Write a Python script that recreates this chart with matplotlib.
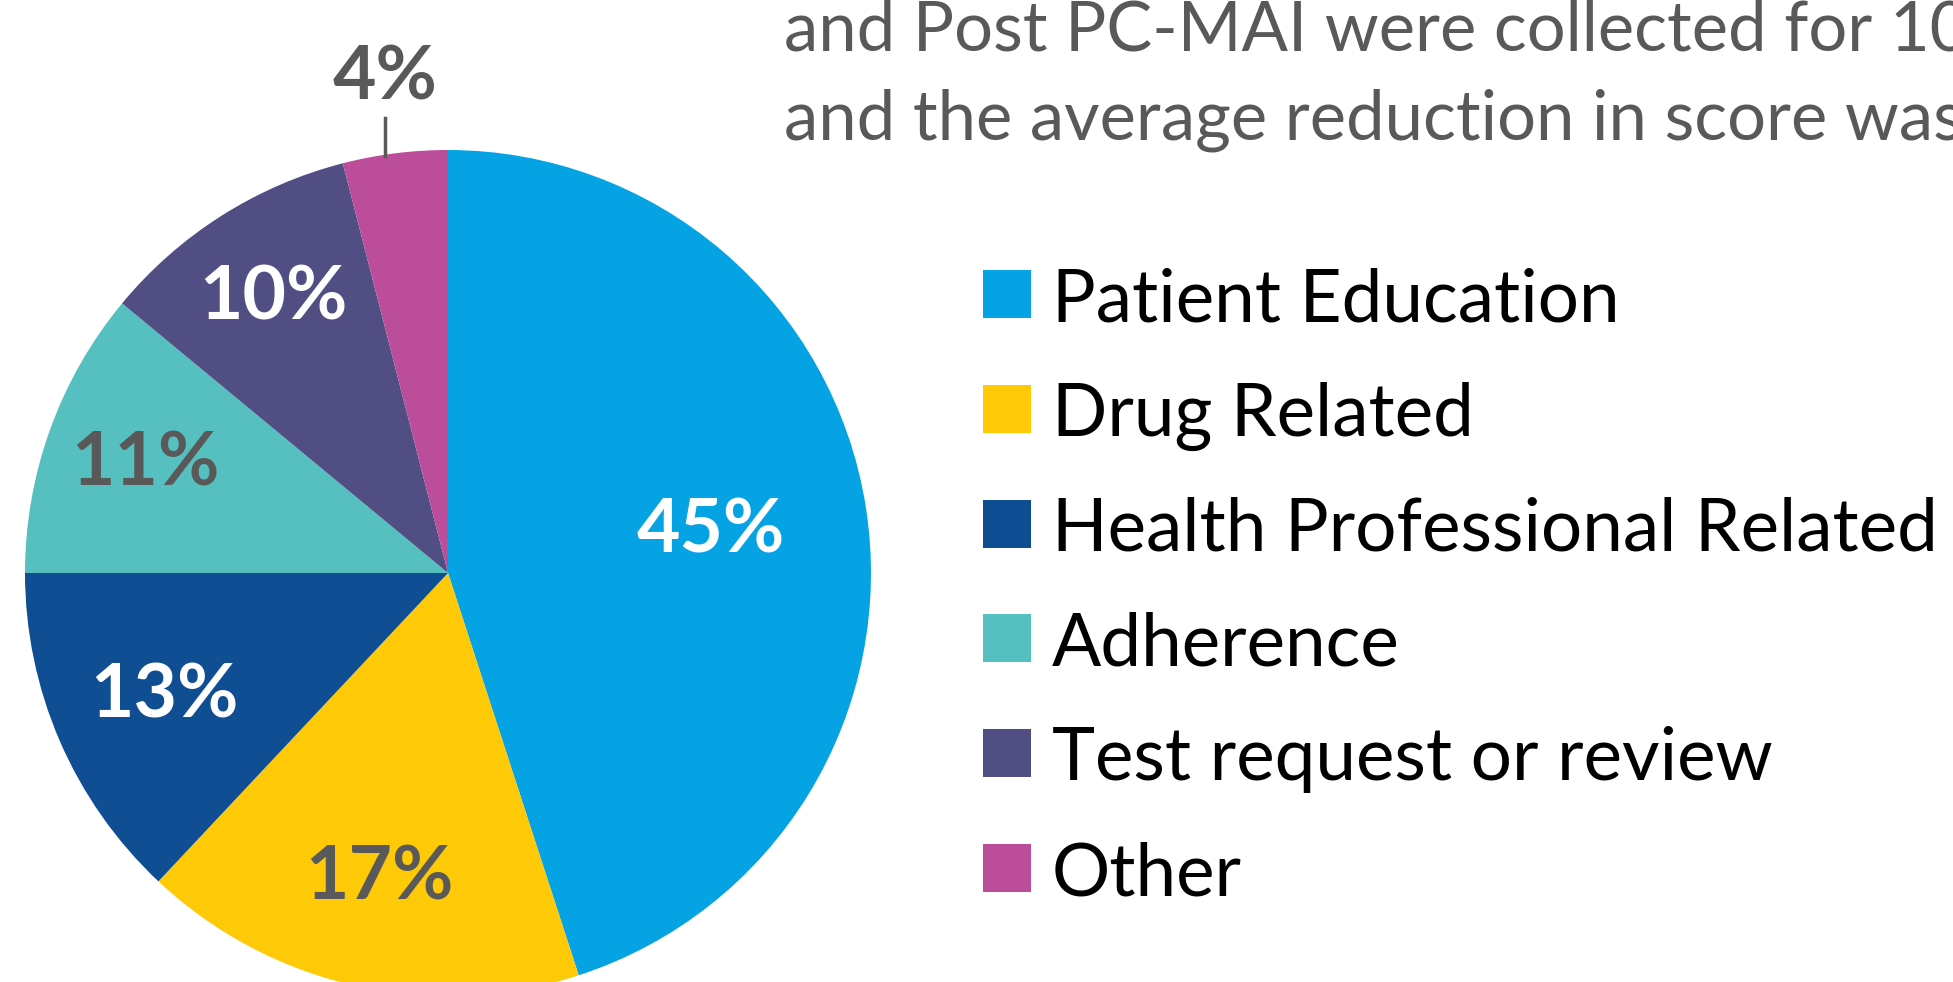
import numpy as np
import matplotlib.pyplot as plt
from matplotlib.patches import Rectangle

categories = ["Patient Education", "Drug Related", "Health Professional Related",
              "Adherence", "Test request or review", "Other"]
shares = [45, 17, 13, 11, 10, 4]
colors = ["#05A3E4", "#FEC907", "#0F4E93", "#56BFBF", "#514E84", "#BB4D9A"]
label_colors = ["white", "#595959", "white", "#595959", "white", "#595959"]
label_dist = [0.63, 0.74, 0.73, 0.76, 0.77, 1.18]
note_lines = ["and Post PC-MAI were collected for 10%",
              "and the average reduction in score was"]

W, H = 1953, 982
plt.rcParams['font.family'] = ['Lato', 'DejaVu Sans']

fig = plt.figure(figsize=(W / 100, H / 100), dpi=100)
ax = fig.add_axes([0, 0, 1, 1])

cx, cy, R = 448, H - 573, 423
wedges, _ = ax.pie(shares, colors=colors, startangle=90, counterclock=False,
                   center=(cx, cy), radius=R, frame=True,
                   wedgeprops=dict(linewidth=0))
ax.set_xlim(0, W)
ax.set_ylim(0, H)
ax.set_aspect('equal')
ax.axis('off')

for w, val, c, d in zip(wedges, shares, label_colors, label_dist):
    mid = np.deg2rad((w.theta1 + w.theta2) / 2)
    x = cx + d * R * np.cos(mid)
    y = cy + d * R * np.sin(mid)
    ax.text(x, y, f"{val}%", color=c, fontsize=54, fontweight='bold',
            ha='center', va='center')
    if d > 1:
        # leader line for the small outside label
        ax.plot([x, x], [H - 156, H - 118], color="#595959", lw=2.5)

# legend, drawn by hand
for i, (name, c) in enumerate(zip(categories, colors)):
    yc = H - (294 + i * 114.8)
    ax.add_patch(Rectangle((983, yc - 24), 48, 48, color=c, lw=0))
    ax.text(1052, yc, name, fontsize=52.5, color="black", ha='left', va='center_baseline')

for i, line in enumerate(note_lines):
    ax.text(784, H - (50 + i * 89), line, fontsize=49.5, color="#595959",
            ha='left', va='baseline')

fig.savefig("out.png", dpi=100)
